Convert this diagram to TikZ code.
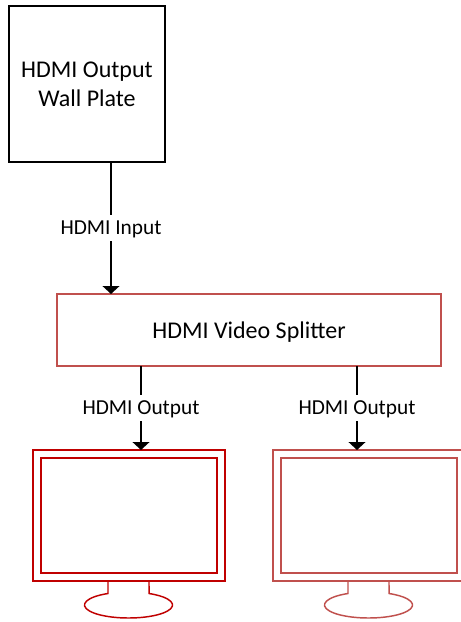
\documentclass[tikz,border=0pt]{standalone}
\usepackage{fontspec}
\setmainfont{Carlito}
\usetikzlibrary{arrows.meta, calc}
\definecolor{darkred}{HTML}{C00000}
\definecolor{softred}{HTML}{C0504D}
\tikzset{
    box/.style={draw, line width=1.5pt, inner sep=0pt, outer sep=0pt},
    screen/.style={box, fill=white},
    stand/.style={line width=1.1pt, fill=white},
    link/.style={->, line width=1.5pt},
    linklabel/.style={fill=white, inner sep=1pt, minimum height=26*0.75pt, text depth=0pt, font=\fontsize{16}{18}\selectfont},
}
\begin{document}
\begin{tikzpicture}[x=0.75pt, y=-0.75pt, >={Triangle[width=12.5pt, length=6pt]}]
        \useasboundingbox (0, 0) rectangle (461, 622);
        \node[box, minimum width=117pt, minimum height=117pt, align=center, text depth=-1.5pt, font=\fontsize{18}{21.75}\selectfont] (wall) at (87, 84) {HDMI Output\\Wall Plate};
        \node[box, draw=softred, minimum width=288pt, minimum height=54pt, text depth=0pt, font=\fontsize{18}{20}\selectfont] (split) at (249, 330) {HDMI Video Splitter};
        % left monitor
        \draw[stand, draw=darkred] (108, 581) -- (108, 593.5) arc (242.2:-62.2:44 and 13) -- (149, 581);
        \node[screen, draw=darkred, minimum width=144pt, minimum height=98.25pt] (mon1) at (129, 515.5) {};
        \node[screen, draw=darkred, minimum width=132pt, minimum height=86.25pt] (scr1) at (mon1) {};
        % right monitor
        \draw[stand, draw=softred] (348, 581) -- (348, 593.5) arc (242.2:-62.2:44 and 13) -- (389, 581);
        \node[screen, draw=softred, minimum width=144pt, minimum height=98.25pt] (mon2) at (369, 515.5) {};
        \node[screen, draw=softred, minimum width=132pt, minimum height=86.25pt] (scr2) at (mon2) {};
        % connectors
        \coordinate (in) at ($(wall.south)+(24, 0)$);
        \coordinate (out1) at ($(mon1.north)+(12, 0)$);
        \coordinate (out2) at ($(mon2.north)+(-12, 0)$);
        \draw[link] (in) -- node[linklabel] (inlabel) {HDMI Input} (in |- split.north);
        \draw[link] (out1 |- split.south) -- node[linklabel] (outlabel1) {HDMI Output} (out1);
        \draw[link] (out2 |- split.south) -- node[linklabel] (outlabel2) {HDMI Output} (out2);
    \end{tikzpicture}
\end{document}
